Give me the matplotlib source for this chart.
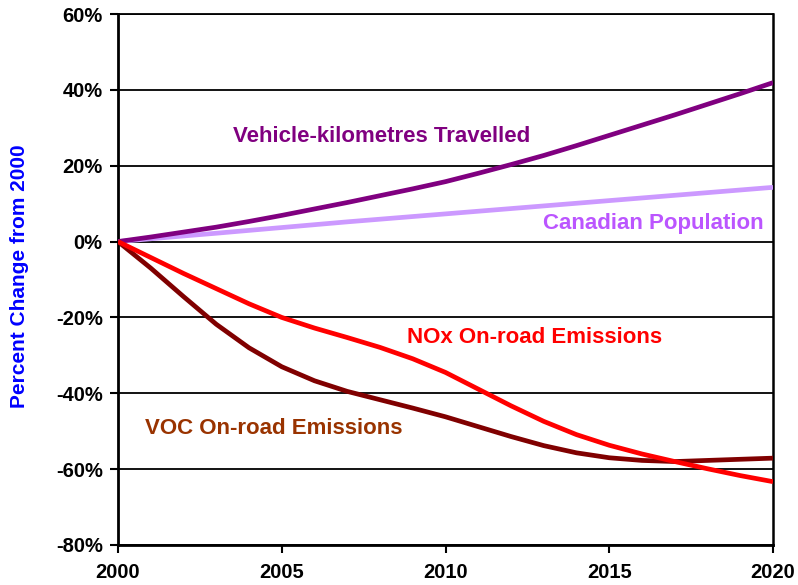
import matplotlib
matplotlib.use("Agg")
import matplotlib.pyplot as plt
from matplotlib.ticker import FuncFormatter

plt.rcParams['font.family'] = ['Liberation Sans', 'DejaVu Sans']
plt.rcParams['font.weight'] = 'bold'

years = list(range(2000, 2021))
vkt = [0, 1.2, 2.5, 3.8, 5.3, 6.9, 8.6, 10.3, 12.1, 13.9, 15.8, 18.0, 20.3, 22.7, 25.3, 28.0, 30.7, 33.4, 36.2, 39.0, 41.9]
population = [0, 0.74, 1.48, 2.2, 2.95, 3.7, 4.45, 5.2, 5.9, 6.6, 7.3, 8.0, 8.7, 9.4, 10.1, 10.8, 11.5, 12.2, 12.9, 13.6, 14.3]
nox = [0, -4.2, -8.4, -12.4, -16.4, -20.0, -22.8, -25.3, -27.9, -30.9, -34.5, -38.9, -43.3, -47.4, -50.9, -53.7, -56.0, -58.0, -59.9, -61.7, -63.3]
voc = [0, -7.0, -14.5, -21.8, -28.0, -33.0, -36.7, -39.5, -41.7, -43.9, -46.2, -48.8, -51.4, -53.8, -55.7, -57.0, -57.7, -58.0, -57.7, -57.4, -57.1]

yticks = [-80, -60, -40, -20, 0, 20, 40, 60]
xticks = [2000, 2005, 2010, 2015, 2020]

fig = plt.figure(figsize=(7.98, 5.85), dpi=100)
ax = fig.add_axes([118/798, 1 - 545/585, (773-118)/798, (545-14)/585])

ax.set_xlim(2000, 2020)
ax.set_ylim(-80, 60)
ax.set_yticks(yticks)
ax.set_xticks(xticks)
ax.yaxis.set_major_formatter(FuncFormatter(lambda v, p: f"{int(v)}%"))
ax.grid(axis='y', color='black', linewidth=1.3)
ax.set_axisbelow(True)

ax.plot(years, population, color='#CC99FF', linewidth=3.4, solid_capstyle='butt', zorder=3)
ax.plot(years, vkt, color='#800080', linewidth=3.4, solid_capstyle='butt', zorder=4)
ax.plot(years, voc, color='#800000', linewidth=3.4, solid_capstyle='butt', zorder=3)
ax.plot(years, nox, color='#FF0000', linewidth=3.4, solid_capstyle='butt', zorder=4)

for s in ['left', 'bottom']:
    ax.spines[s].set_linewidth(2)
ax.spines['right'].set_linewidth(1.8)
ax.spines['top'].set_linewidth(1.3)

ax.tick_params(axis='both', direction='out', length=6, width=1.5, labelsize=14.5, pad=5)
ax.tick_params(axis='x', pad=7)
for lab in ax.get_xticklabels() + ax.get_yticklabels():
    lab.set_fontweight('bold')

ax.set_ylabel('Percent Change from 2000', color='#0000FF', fontsize=15, fontweight='bold')
ax.yaxis.set_label_coords((20-118)/655, (545-276)/531)
ax.yaxis.label.set_va('center')

ax.text(2008.06, 27.7, 'Vehicle-kilometres Travelled', color='#800080', fontsize=16, fontweight='bold', ha='center', va='center')
ax.text(2016.34, 4.7, 'Canadian Population', color='#BB55FF', fontsize=16, fontweight='bold', ha='center', va='center')
ax.text(2012.73, -25.3, 'NOx On-road Emissions', color='#FF0000', fontsize=16, fontweight='bold', ha='center', va='center')
ax.text(2004.76, -49.3, 'VOC On-road Emissions', color='#993300', fontsize=16, fontweight='bold', ha='center', va='center')

fig.savefig('out.png', dpi=100)
